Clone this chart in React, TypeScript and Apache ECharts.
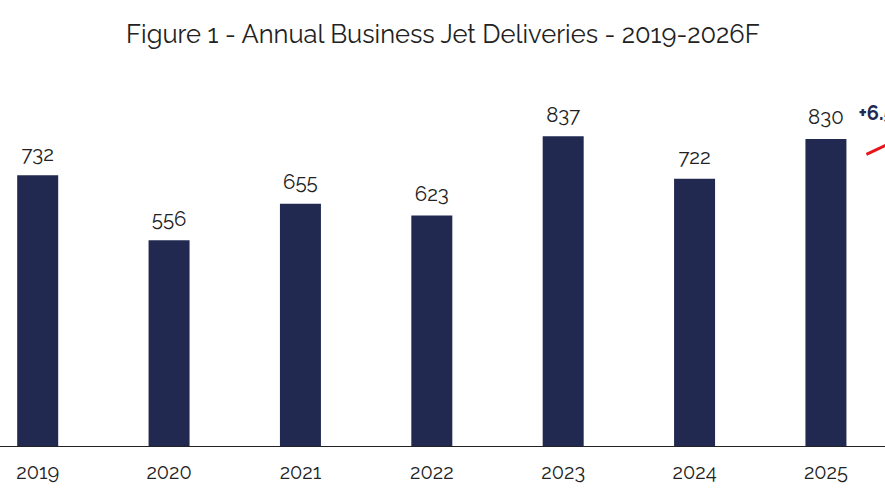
import React, { useEffect, useRef } from "react";
import * as echarts from "echarts";

const categories = ["2019", "2020", "2021", "2022", "2023", "2024", "2025", "2026F"];
const deliveries = [732, 556, 655, 623, 837, 722, 830, 884];
const growthLabel = "+6.5%";
const titleText = "Figure 1 - Annual Business Jet Deliveries - 2019-2026F";

const FONT = "Raleway, Lato, 'Open Sans', sans-serif";
const NAVY = "#212951";
const OFFSET = 28.4;
const INNER_W = 8 * 131.4;

export default function App() {
  const ref = useRef<HTMLDivElement>(null);
  useEffect(() => {
    document.body.style.margin = "0";
    if (!ref.current) return;
    const chart = echarts.init(ref.current, null, { renderer: "svg" });
    chart.setOption({
      animation: false,
      backgroundColor: "#ffffff",
      title: {
        text: titleText,
        left: 437.5 + OFFSET,
        textAlign: "center",
        top: 16,
        textStyle: { fontFamily: FONT, fontSize: 25.5, fontWeight: "normal", color: "#222222" },
      },
      grid: { left: 0, right: 0, top: 76, bottom: 54, containLabel: false },
      xAxis: {
        type: "category",
        data: categories,
        axisLine: { show: true, lineStyle: { color: "#222222", width: 1.2 } },
        axisTick: { show: false },
        axisLabel: { fontFamily: FONT, fontSize: 20, color: "#222222", margin: 16 },
      },
      yAxis: { type: "value", min: 0, max: 1000, show: false, splitLine: { show: false } },
      series: [
        {
          type: "bar",
          data: deliveries,
          barWidth: 41,
          itemStyle: { color: NAVY },
          label: {
            show: true,
            position: "top",
            distance: 11,
            fontFamily: FONT,
            fontSize: 20.5,
            color: "#222222",
          },
        },
      ],
    });
    const n = categories.length;
    const p0 = chart.convertToPixel({ seriesIndex: 0 }, [n - 2, deliveries[n - 2]]) as number[];
    const p1 = chart.convertToPixel({ seriesIndex: 0 }, [n - 1, deliveries[n - 1]]) as number[];
    const x0 = p0[0] + 40.5;
    const y0 = p0[1] + 15.5;
    const x1 = p1[0] - 30;
    const y1 = y0 - (x1 - x0) * 0.47;
    chart.setOption({
      graphic: [
        {
          type: "line",
          shape: { x1: x0, y1: y0, x2: x1, y2: y1 },
          style: { stroke: "#e8141b", lineWidth: 3 },
        },
        {
          type: "text",
          x: x0 - 8,
          y: p0[1] - 26,
          style: {
            text: growthLabel,
            fontFamily: FONT,
            fontSize: 20,
            fontWeight: "bold",
            fill: NAVY,
            textVerticalAlign: "middle",
          },
        },
      ],
    });
    return () => chart.dispose();
  }, []);
  return (
    <div style={{ position: "relative", width: 885, height: 500, overflow: "hidden" }}>
      <div
        ref={ref}
        style={{ position: "absolute", left: -OFFSET, top: 0, width: INNER_W, height: 500 }}
      />
    </div>
  );
}
